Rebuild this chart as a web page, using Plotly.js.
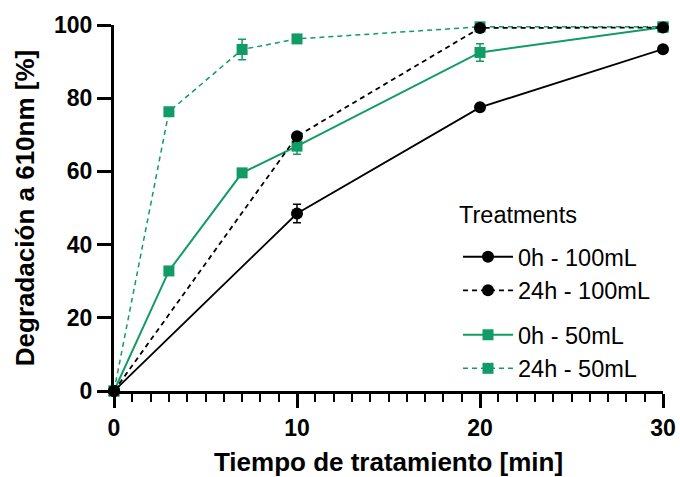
<!DOCTYPE html>
<html>
<head>
<meta charset="utf-8">
<script src="https://cdn.plot.ly/plotly-3.0.1.min.js"></script>
<style>html,body{margin:0;padding:0;background:#fff;}#chart{width:680px;height:477px;}</style>
</head>
<body>
<div id="chart"></div>
<script>
// Data
const time100 = [0, 10, 20, 30];
const time50 = [0, 3, 7, 10, 20, 30];

const names = ["0h - 100mL", "24h - 100mL", "0h - 50mL", "24h - 50mL"];
const legendTitle = "Treatments";

const deg0h100 = [0, 48.5, 77.5, 93.4];
const err0h100 = [0, 2.5, 0, 0];

const deg24h100 = [0, 69.6, 99.2, 99.3];
const err24h100 = [0, 0, 0, 0];

const deg0h50 = [0, 32.8, 59.6, 66.9, 92.5, 99.4];
const err0h50 = [0, 0, 0, 2.2, 2.4, 0];

const deg24h50 = [0, 76.3, 93.3, 96.2, 99.5, 99.5];
const err24h50 = [0, 0, 2.8, 0, 0, 0];

const xTicks = [0, 10, 20, 30];
const yTicks = [0, 20, 40, 60, 80, 100];

const BLACK = "#000000";
const GREEN = "#109B67";
const FONT = "Liberation Sans, Arial, sans-serif";

function mk(x, y, err, name, color, dash, symbol, legend, lw) {
  return {
    x: x, y: y, name: name, type: "scatter", mode: "lines+markers",
    legend: legend,
    line: {color: color, width: lw, dash: dash},
    marker: {color: color, size: symbol === "circle" ? 12 : 11, symbol: symbol},
    error_y: {type: "data", array: err, visible: true, color: color, thickness: 1.5, width: 4},
    cliponaxis: false
  };
}

const traces = [
  mk(time50, deg24h50, err24h50, names[3], GREEN, "5px,4px", "square", "legend2", 1.5),
  mk(time50, deg0h50, err0h50, names[2], GREEN, "solid", "square", "legend2", 2),
  mk(time100, deg24h100, err24h100, names[1], BLACK, "5px,4px", "circle", "legend", 1.8),
  mk(time100, deg0h100, err0h100, names[0], BLACK, "solid", "circle", "legend", 1.8)
];

const plotW = 680 - 114 - 17, plotH = 477 - 25 - 86;
function px2x(px) { return (px - 114) / plotW; }
function px2y(py) { return (477 - 86 - py) / plotH; }

const legFont = {family: FONT, size: 23.5, color: "#000"};

const layout = {
  width: 680, height: 477,
  margin: {l: 114, r: 17, t: 25, b: 86},
  paper_bgcolor: "#fff", plot_bgcolor: "#fff",
  font: {family: FONT, color: "#000"},
  showlegend: true,
  xaxis: {
    range: [0, 30], tickvals: xTicks, ticktext: xTicks.map(String),
    showgrid: false, zeroline: false, showline: true, linewidth: 3, linecolor: "#000",
    ticks: "outside", ticklen: 14, tickwidth: 3, tickcolor: "#000",
    tickfont: {family: FONT, size: 23, color: "#000", weight: "bold"},
    minor: {dtick: 1, tick0: 0, ticks: "outside", ticklen: 8, tickwidth: 2, tickcolor: "#000", showgrid: false},
    title: {text: "<b>Tiempo de tratamiento [min]</b>", font: {family: FONT, size: 26, color: "#000"}, standoff: 28},
    automargin: false
  },
  yaxis: {
    range: [0, 100], tickvals: yTicks, ticktext: yTicks.map(String),
    showgrid: false, zeroline: false, showline: true, linewidth: 3, linecolor: "#000",
    ticks: "outside", ticklen: 14, tickwidth: 3, tickcolor: "#000",
    tickfont: {family: FONT, size: 23, color: "#000", weight: "bold"},
    title: {text: "<b>Degradación a 610nm [%]</b>", font: {family: FONT, size: 26, color: "#000"}, standoff: 12},
    automargin: false
  },
  legend: {
    x: px2x(458), y: px2y(235), xref: "paper", yref: "paper",
    font: legFont, traceorder: "reversed", itemwidth: 50,
    bgcolor: "rgba(0,0,0,0)", borderwidth: 0,
    xanchor: "left", yanchor: "top"
  },
  legend2: {
    x: px2x(458), y: px2y(313), xref: "paper", yref: "paper",
    font: legFont, traceorder: "reversed", itemwidth: 50,
    bgcolor: "rgba(0,0,0,0)", borderwidth: 0,
    xanchor: "left", yanchor: "top"
  },
  annotations: [{
    text: legendTitle, x: px2x(457), y: px2y(215), xref: "paper", yref: "paper",
    xanchor: "left", yanchor: "middle", showarrow: false, font: legFont
  }]
};

Plotly.newPlot("chart", traces, layout, {displayModeBar: false, staticPlot: true});
</script>
</body>
</html>
